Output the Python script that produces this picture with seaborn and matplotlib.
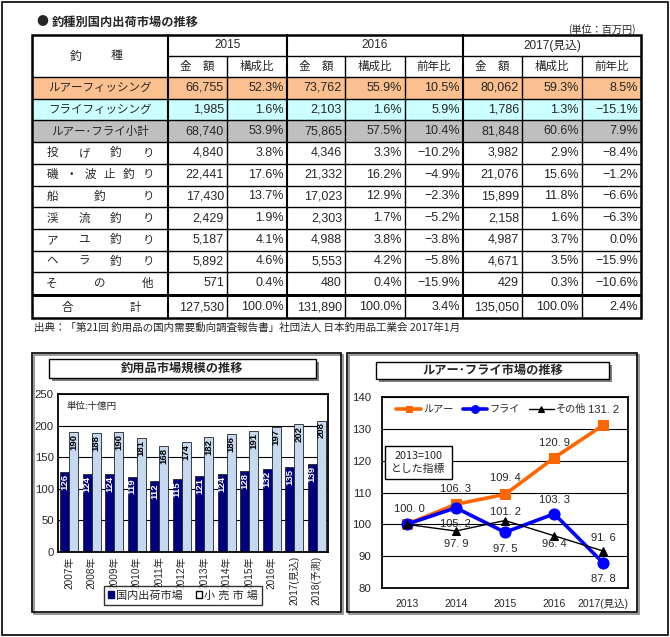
import matplotlib
matplotlib.use("Agg")
import matplotlib.pyplot as plt
from matplotlib.patches import Rectangle, Patch
import seaborn as sns
import pandas as pd

W, H = 670, 637
JP = ["Noto Sans CJK JP", "DejaVu Sans"]
NUM = ["Liberation Sans Narrow", "Liberation Sans", "Noto Sans CJK JP"]

# ---- table data (unit: million yen) ----
row_labels = ["ルアーフィッシング", "フライフィッシング", "ルアー･フライ小計", "投げ釣り",
              "磯・波止釣り", "船釣り", "渓流釣り", "アユ釣り", "ヘラ釣り", "その他", "合計"]
amount_2015 = [66755, 1985, 68740, 4840, 22441, 17430, 2429, 5187, 5892, 571, 127530]
share_2015 = [52.3, 1.6, 53.9, 3.8, 17.6, 13.7, 1.9, 4.1, 4.6, 0.4, 100.0]
amount_2016 = [73762, 2103, 75865, 4346, 21332, 17023, 2303, 4988, 5553, 480, 131890]
share_2016 = [55.9, 1.6, 57.5, 3.3, 16.2, 12.9, 1.7, 3.8, 4.2, 0.4, 100.0]
yoy_2016 = [10.5, 5.9, 10.4, -10.2, -4.9, -2.3, -5.2, -3.8, -5.8, -15.9, 3.4]
amount_2017 = [80062, 1786, 81848, 3982, 21076, 15899, 2158, 4987, 4671, 429, 135050]
share_2017 = [59.3, 1.3, 60.6, 2.9, 15.6, 11.8, 1.6, 3.7, 3.5, 0.3, 100.0]
yoy_2017 = [8.5, -15.1, 7.9, -8.4, -1.2, -6.6, -6.3, 0.0, -15.9, -10.6, 2.4]

# ---- bar chart data (unit: billion yen) ----
bar_years = ["2007年", "2008年", "2009年", "2010年", "2011年", "2012年", "2013年",
             "2014年", "2015年", "2016年", "2017(見込)", "2018(予測)"]
domestic = [126, 124, 124, 119, 112, 115, 121, 124, 128, 132, 135, 139]
retail = [190, 188, 190, 181, 168, 174, 182, 186, 191, 197, 202, 208]

# ---- index chart data (2013 = 100) ----
idx_years = ["2013", "2014", "2015", "2016", "2017(見込)"]
lure_idx = [100.0, 106.3, 109.4, 120.9, 131.2]
fly_idx = [100.0, 105.2, 97.5, 103.3, 87.8]
other_idx = [100.0, 97.9, 101.2, 96.4, 91.6]

sns.set_style("white")
plt.rcParams["font.family"] = ["Liberation Sans", "Noto Sans CJK JP", "DejaVu Sans"]
plt.rcParams["axes.unicode_minus"] = True


def fig_rect(x0, y0, x1, y1):
    return [x0 / W, 1 - y1 / H, (x1 - x0) / W, (y1 - y0) / H]


fig = plt.figure(figsize=(W / 100, H / 100), dpi=100)

# ---------------- bar chart ----------------
ax1 = fig.add_axes(fig_rect(58, 394, 328, 552))
bars = pd.DataFrame({
    "year": bar_years * 2,
    "value": domestic + retail,
    "series": ["国内出荷市場"] * len(domestic) + ["小 売 市 場"] * len(retail),
})
sns.barplot(data=bars, x="year", y="value", hue="series", palette=["#000080", "#C5D9F1"],
            saturation=1, width=0.8, edgecolor="#222222", linewidth=0.6, legend=False, ax=ax1)
for cont, col in zip(ax1.containers, ["white", "black"]):
    for p in cont:
        h = p.get_height()
        ax1.text(p.get_x() + p.get_width() / 2, h - 3, f"{h:.0f}", rotation=90, ha="center",
                 va="top", color=col, fontsize=6.8, fontweight="bold", family=NUM)
ax1.set_ylim(0, 250)
ax1.set_yticks(range(0, 251, 50))
ax1.set_axisbelow(True)
ax1.grid(axis="y", color="black", lw=0.8)
ax1.set_xlabel("")
ax1.set_ylabel("")
ax1.tick_params(axis="y", labelsize=8.2, length=0, pad=3)
ax1.tick_params(axis="x", labelsize=7.2, length=0, pad=3)
for t in ax1.get_xticklabels():
    t.set_rotation(90)
    t.set_va("top")
for s in ax1.spines.values():
    s.set_color("black")
    s.set_linewidth(1.3)
ax1.text(0.03, 0.92, "単位:十億円", transform=ax1.transAxes, fontsize=6.8, va="center")
handles = [Patch(facecolor="#000080", edgecolor="#000080"), Patch(facecolor="white", edgecolor="black")]
leg = ax1.legend(handles, ["国内出荷市場", "小 売 市 場"], ncol=2, loc="center",
                 bbox_to_anchor=(183 / W, 1 - 595.5 / H), bbox_transform=fig.transFigure,
                 frameon=True, fancybox=False, edgecolor="black", fontsize=8,
                 handlelength=0.55, handleheight=0.55, handletextpad=0.2, columnspacing=1.2,
                 borderpad=0.35)
leg.get_frame().set_linewidth(1.0)

# ---------------- index line chart ----------------
ax2 = fig.add_axes(fig_rect(382, 397, 628, 588))
series = [
    ("ルアー", lure_idx, "#FF6600", "s", 2.6, 7),
    ("フライ", fly_idx, "#0000FF", "o", 2.6, 8),
    ("その他", other_idx, "black", "^", 1.0, 6),
]
for name, vals, color, marker, lw, ms in series:
    sns.lineplot(x=idx_years, y=vals, ax=ax2, color=color, marker=marker, lw=lw, markersize=ms,
                 markeredgecolor=color, label=name, sort=False)
ax2.set_xlim(-0.5, 4.5)
ax2.set_ylim(80, 140)
ax2.set_yticks(range(80, 141, 10))
ax2.grid(axis="y", color="black", lw=0.8)
ax2.set_axisbelow(True)
ax2.set_xticks(range(len(idx_years)))
ax2.set_xticklabels(idx_years)
ax2.set_xticks([0.5, 1.5, 2.5, 3.5], minor=True)
ax2.tick_params(axis="x", which="major", length=0, labelsize=7.5, pad=8)
ax2.tick_params(axis="x", which="minor", length=4, direction="in", width=0.8, color="black")
ax2.tick_params(axis="y", length=0, labelsize=8.2, pad=8)
for s in ax2.spines.values():
    s.set_color("black")
    s.set_linewidth(1.3)
ax2.legend(loc="upper left", bbox_to_anchor=(0.03, 1.0), ncol=3, frameon=False, fontsize=7.3,
           handlelength=2.4, handletextpad=0.25, columnspacing=0.9, markerscale=0.7,
           borderaxespad=0.3)

# value labels: (series index, point index, pixel offset)
label_offsets = [
    (0, 0, 15), (0, 1, 15), (0, 2, 16), (0, 3, 15), (0, 4, 15),
    (1, 1, -16), (1, 2, -17), (1, 3, 14), (1, 4, -16),
    (2, 1, -13), (2, 2, 9), (2, 3, -8), (2, 4, 13),
]
for si, pi, dy in label_offsets:
    v = series[si][1][pi]
    ax2.annotate(f"{v:.1f}".replace(".", ". "), (pi, v), xytext=(3 if pi == 0 else 0, dy),
                 textcoords="offset pixels", ha="center", va="center", fontsize=8, family=NUM)

# ---------------- overlay: table, frames, boxes ----------------
ov = fig.add_axes([0, 0, 1, 1], zorder=10)
ov.set_xlim(0, W)
ov.set_ylim(H, 0)
ov.axis("off")
ov.patch.set_alpha(0)

ov.add_patch(Rectangle((1.5, 1.5), W - 4, H - 4, fill=False, ec="black", lw=1.2))
ov.text(36, 22, "●", fontsize=8.5, va="center", family=JP)
ov.text(52, 22, "釣種別国内出荷市場の推移", fontsize=8.8, va="center", fontweight="bold", family=JP)
ov.text(636, 29, "(単位：百万円)", fontsize=7.3, ha="right", va="center", family=JP)

col_edges = [32, 168, 227, 287, 345, 405, 463, 522, 582, 641]
top, mid, data_top, row_h = 35, 56, 77, 21.7
tot_top, tot_bot = 297, 318
fills = ["#FAC08F", "#CCFFFF", "#BFBFBF"]
for i, fc in enumerate(fills):
    ov.add_patch(Rectangle((32, data_top + i * row_h), 609, row_h, fc=fc, ec="none"))
for i in range(10):
    ov.plot([32, 641], [data_top + i * row_h] * 2, color="black", lw=1.0)
ov.add_patch(Rectangle((32, data_top + 10 * row_h), 609, tot_top - data_top - 10 * row_h,
                       fc="black", ec="none"))
ov.plot([168, 641], [mid, mid], color="black", lw=1.0)
for x in col_edges[1:-1]:
    major = x in (168, 287, 463)
    ov.plot([x, x], [top if major else mid, tot_bot], color="black", lw=1.5 if major else 1.0)
ov.add_patch(Rectangle((32, top), 609, tot_bot - top, fill=False, ec="black", lw=1.8))

ov.text(76, 56, "釣", fontsize=8.5, ha="center", va="center", family=JP)
ov.text(117, 56, "種", fontsize=8.5, ha="center", va="center", family=JP)
for txt, x0, x1 in [("2015", 168, 287), ("2016", 287, 463), ("2017(見込)", 463, 641)]:
    ov.text((x0 + x1) / 2, (top + mid) / 2, txt, fontsize=8.5, ha="center", va="center")
sub_heads = ["金　額", "構成比", "金　額", "構成比", "前年比", "金　額", "構成比", "前年比"]
for j, txt in enumerate(sub_heads):
    ov.text((col_edges[j + 1] + col_edges[j + 2]) / 2, (mid + data_top) / 2, txt,
            fontsize=8.3, ha="center", va="center", family=JP)

columns = [amount_2015, share_2015, amount_2016, share_2016, yoy_2016,
           amount_2017, share_2017, yoy_2017]
kinds = ["amt", "pct", "amt", "pct", "pct", "amt", "pct", "pct"]
for r, lab in enumerate(row_labels):
    yc = (tot_top + tot_bot) / 2 if r == 10 else data_top + (r + 0.5) * row_h
    if r < 3:
        ov.text(100, yc, lab, fontsize=8.3, ha="center", va="center", family=JP)
    else:
        x0, x1 = (67, 135) if r == 10 else (52, 148)
        n = len(lab)
        for k, ch in enumerate(lab):
            ov.text(x0 + (x1 - x0) * k / (n - 1), yc, ch, fontsize=8.3, ha="center",
                    va="center", family=JP)
    for j, (col, kind) in enumerate(zip(columns, kinds)):
        v = col[r]
        s = f"{v:,}" if kind == "amt" else f"{v:.1f}%"
        s = s.replace("-", "−")
        ov.text(col_edges[j + 2] - 3, yc, s, fontsize=9, ha="right", va="center", family=NUM)

ov.text(34, 328, "出典：「第21回 釣用品の国内需要動向調査報告書」社団法人 日本釣用品工業会 2017年1月",
        fontsize=7.6, va="center", family=JP)

# chart panels
for x0, x1 in [(32, 341), (347, 637)]:
    ov.add_patch(Rectangle((x0 + 2, 355), x1 - x0, 259, fill=False, ec="#888888", lw=1.2))
    ov.add_patch(Rectangle((x0, 353), x1 - x0, 259, fill=False, ec="black", lw=1.2))
for x0, y0, x1, y1, title in [(49, 359, 316, 378, "釣用品市場規模の推移"),
                              (376, 362, 609, 379, "ルアー･フライ市場の推移")]:
    ov.add_patch(Rectangle((x0 + 3, y0 + 3), x1 - x0, y1 - y0, fc="#808080", ec="none"))
    ov.add_patch(Rectangle((x0, y0), x1 - x0, y1 - y0, fc="white", ec="black", lw=1.0))
    ov.text((x0 + x1) / 2, (y0 + y1) / 2, title, fontsize=8.8, fontweight="bold",
            ha="center", va="center", family=JP)

ov.add_patch(Rectangle((385, 446), 67, 33, fc="white", ec="black", lw=1.0))
ov.text(418.5, 462.5, "2013=100\nとした指標", fontsize=7.8, ha="center", va="center",
        linespacing=1.3, family=JP)

fig.savefig("out.png", dpi=100)
